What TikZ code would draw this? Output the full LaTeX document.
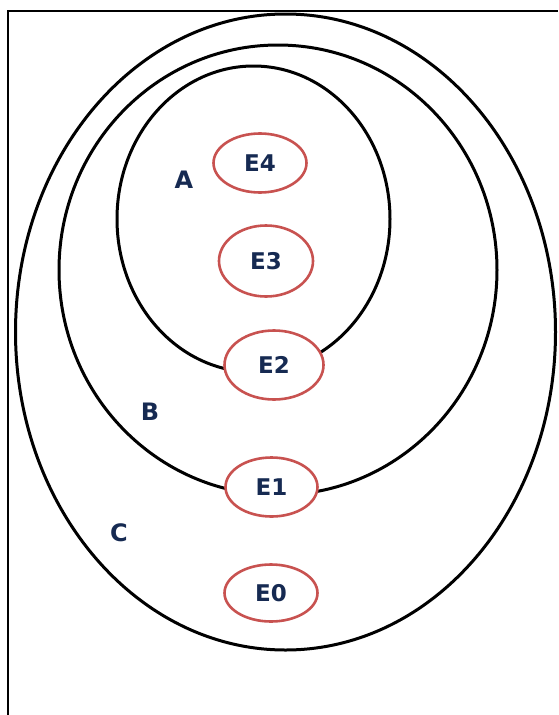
\documentclass[tikz,border=0pt]{standalone}
\usepackage{fontspec}
\setmainfont{DejaVu Sans}
\usetikzlibrary{shapes.geometric, positioning}
\definecolor{evtred}{RGB}{200, 82, 80}
\definecolor{lblnavy}{RGB}{22, 42, 82}

\begin{document}
\begin{tikzpicture}[x=1pt, y=-1pt,
  evt/.style={ellipse, draw=evtred, line width=2.6pt, fill=white, inner sep=0pt, font=\fontsize{23}{26}\selectfont\bfseries, text=lblnavy},
  lbl/.style={font=\fontsize{24}{26}\selectfont\bfseries, text=lblnavy},
  setline/.style={line width=3pt}
]
  \useasboundingbox (0,0) rectangle (558,715);
  \draw[line width=2.6pt] (8,715) |- (558,11);

  \draw[setline] (285.5,332) ellipse [x radius=270pt, y radius=318pt];
  \draw[setline] (278,270) ellipse [x radius=219pt, y radius=225pt];
  \draw[setline] (253.5,219) ellipse [x radius=136.5pt, y radius=153pt];

  \node[evt, minimum width=93pt, minimum height=59pt] (e4) at (260,163) {E4};
  \node[evt, minimum width=94pt, minimum height=71pt] (e3) at (266,261) {E3};
  \node[evt, minimum width=99pt, minimum height=69pt] (e2) at (274,365) {E2};
  \node[evt, minimum width=92pt, minimum height=59pt] (e1) at (271.5,487) {E1};
  \node[evt, minimum width=93pt, minimum height=57pt] (e0) at (271,593) {E0};

  \node[lbl] (la) at (184,180) {A};
  \node[lbl] (lb) at (150,412) {B};
  \node[lbl] (lc) at (119,533) {C};
\end{tikzpicture}
\end{document}
